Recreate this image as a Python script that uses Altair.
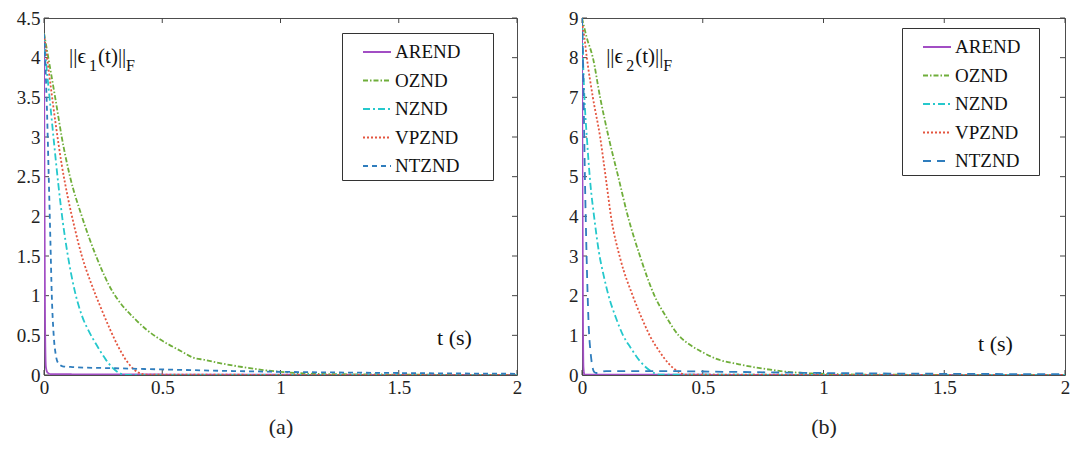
import altair as alt
import pandas as pd

FONT = "Liberation Serif, Times New Roman, Times, serif"
SERIES = ["AREND", "OZND", "NZND", "VPZND", "NTZND"]
COLORS = ["#a24ec4", "#6fae3a", "#25c8cc", "#e4553f", "#2f7dbd"]
DASH_A = [[1, 0], [5, 2, 1.5, 2], [7, 3, 2, 3], [2, 2], [5, 4]]
DASH_B = [[1, 0], [5, 2, 1.5, 2], [7, 3, 2, 3], [2, 2], [8, 6]]
WIDTH_A = [1.8, 1.8, 2.6, 2.6, 1.8]
WIDTH_B = [1.8, 1.8, 2.6, 2.6, 3.0]
PAD_A = "\u2800\u2800"  # blank trailing glyphs that widen the legend box
PAD_B = "\u2800"

X_TICKS = [0, 0.5, 1, 1.5, 2]
Y_TICKS_A = [0, 0.5, 1, 1.5, 2, 2.5, 3, 3.5, 4, 4.5]
Y_TICKS_B = [0, 1, 2, 3, 4, 5, 6, 7, 8, 9]

# ---- panel (a): ||eps_1(t)||_F ----
a_arend_t = [0, 0.0015, 0.003, 0.005, 0.008, 0.015, 0.03, 2.0]
a_arend_v = [4.3, 3.0, 1.6, 0.5, 0.1, 0.03, 0.01, 0.0]
a_oznd_t = [0, 0.02, 0.05, 0.075, 0.11, 0.16, 0.22, 0.29, 0.33, 0.38, 0.43, 0.48, 0.53, 0.58, 0.63, 0.68, 0.76, 0.84, 0.92, 1.0, 1.1, 1.25, 1.5, 2.0]
a_oznd_v = [4.31, 3.97, 3.45, 3.0, 2.5, 2.0, 1.5, 1.05, 0.88, 0.72, 0.58, 0.47, 0.38, 0.3, 0.22, 0.19, 0.14, 0.1, 0.065, 0.04, 0.02, 0.01, 0.005, 0.0]
a_nznd_t = [0, 0.01, 0.02, 0.03, 0.045, 0.06, 0.08, 0.1, 0.13, 0.16, 0.19, 0.22, 0.26, 0.29, 0.326, 0.35, 2.0]
a_nznd_v = [4.3, 3.9, 3.6, 3.3, 2.85, 2.42, 1.92, 1.52, 1.06, 0.75, 0.55, 0.39, 0.2, 0.09, 0.015, 0.0, 0.0]
a_vpznd_t = [0, 0.013, 0.03, 0.05, 0.075, 0.1, 0.13, 0.16, 0.2, 0.24, 0.28, 0.31, 0.34, 0.37, 0.4, 0.43, 2.0]
a_vpznd_v = [4.3, 4.0, 3.6, 3.15, 2.65, 2.25, 1.85, 1.5, 1.15, 0.85, 0.57, 0.38, 0.22, 0.1, 0.03, 0.005, 0.0]
a_ntznd_t = [0, 0.006, 0.013, 0.02, 0.027, 0.033, 0.041, 0.05, 0.06, 0.079, 0.12, 0.3, 0.5, 0.8, 1.0, 1.5, 2.0]
a_ntznd_v = [4.3, 3.9, 3.3, 2.5, 1.7, 1.0, 0.5, 0.25, 0.15, 0.11, 0.1, 0.085, 0.07, 0.05, 0.04, 0.025, 0.015]

# ---- panel (b): ||eps_2(t)||_F ----
b_arend_t = [0, 0.002, 0.004, 0.006, 0.01, 2.0]
b_arend_v = [8.9, 5.0, 1.5, 0.2, 0.01, 0.0]
b_oznd_t = [0, 0.02, 0.045, 0.075, 0.11, 0.15, 0.19, 0.24, 0.3, 0.35, 0.4, 0.45, 0.5, 0.56, 0.65, 0.75, 0.85, 0.95, 1.05, 1.2, 2.0]
b_oznd_v = [9.0, 8.5, 8.0, 7.0, 6.0, 5.0, 4.0, 3.0, 2.0, 1.45, 1.0, 0.75, 0.57, 0.4, 0.27, 0.16, 0.08, 0.04, 0.02, 0.008, 0.0]
b_nznd_t = [0, 0.005, 0.01, 0.02, 0.035, 0.05, 0.07, 0.09, 0.11, 0.14, 0.17, 0.2, 0.24, 0.28, 0.32, 2.0]
b_nznd_v = [9.0, 7.8, 7.0, 6.0, 4.8, 4.0, 3.1, 2.5, 2.0, 1.45, 1.0, 0.7, 0.35, 0.12, 0.01, 0.0]
b_vpznd_t = [0, 0.01, 0.02, 0.045, 0.075, 0.1, 0.12, 0.16, 0.21, 0.25, 0.28, 0.32, 0.36, 0.4, 0.43, 2.0]
b_vpznd_v = [8.9, 8.5, 8.0, 7.0, 6.0, 4.9, 4.0, 2.9, 2.0, 1.4, 1.0, 0.6, 0.28, 0.08, 0.01, 0.0]
b_ntznd_t = [0, 0.004, 0.008, 0.012, 0.016, 0.022, 0.028, 0.035, 0.042, 0.05, 0.06, 0.1, 0.3, 0.6, 1.0, 1.5, 2.0]
b_ntznd_v = [9.0, 8.0, 6.5, 5.0, 3.8, 2.3, 1.2, 0.6, 0.25, 0.08, 0.05, 0.1, 0.1, 0.08, 0.05, 0.03, 0.02]

curves_a = [(a_arend_t, a_arend_v), (a_oznd_t, a_oznd_v), (a_nznd_t, a_nznd_v),
            (a_vpznd_t, a_vpznd_v), (a_ntznd_t, a_ntznd_v)]
curves_b = [(b_arend_t, b_arend_v), (b_oznd_t, b_oznd_v), (b_nznd_t, b_nznd_v),
            (b_vpznd_t, b_vpznd_v), (b_ntznd_t, b_ntznd_v)]


def panel(curves, yticks, ymax, dashes, widths, W, H, letter, sub,
          lab_t, lab_v, ts_t, ts_v, legx, legy, pad):
    names = [s + pad for s in SERIES]
    rows = []
    for s, (ts, vs) in zip(names, curves):
        for k, (t, v) in enumerate(zip(ts, vs)):
            rows.append({"series": s, "t": t, "v": v, "k": k})
    df = pd.DataFrame(rows)

    X = alt.X("t:Q", scale=alt.Scale(domain=[0, 2], nice=False),
              axis=alt.Axis(values=X_TICKS, format="~g", title=letter, grid=False,
                            ticks=False, domain=False, labelFlush=False,
                            labelFont=FONT, labelFontSize=19, labelColor="#222",
                            labelPadding=3, titleFont=FONT, titleFontSize=22,
                            titleFontWeight="normal", titleColor="#222",
                            titlePadding=19))
    Y = alt.Y("v:Q", scale=alt.Scale(domain=[0, ymax], nice=False),
              axis=alt.Axis(values=yticks, format="~g", title=None, grid=False,
                            ticks=False, domain=False, labelFont=FONT,
                            labelFontSize=19, labelColor="#222", labelPadding=4))

    leg = alt.Legend(title=None, orient="none", legendX=legx, legendY=legy)

    lines = alt.Chart(df).mark_line(clip=True, interpolate="monotone").encode(
        x=X, y=Y,
        color=alt.Color("series:N", scale=alt.Scale(domain=names, range=COLORS), legend=leg),
        strokeDash=alt.StrokeDash("series:N", scale=alt.Scale(domain=names, range=dashes), legend=leg),
        strokeWidth=alt.StrokeWidth("series:N", scale=alt.Scale(domain=names, range=widths), legend=leg),
        order="k:Q",
    )

    ydf = pd.DataFrame({"v": yticks})
    xdf = pd.DataFrame({"t": X_TICKS})
    tick_style = dict(color="#444", strokeWidth=1)
    tl = alt.Chart(ydf).mark_rule(**tick_style).encode(y=Y, x=alt.value(0), x2=alt.value(5))
    tr = alt.Chart(ydf).mark_rule(**tick_style).encode(y=Y, x=alt.value(W - 5), x2=alt.value(W))
    tb = alt.Chart(xdf).mark_rule(**tick_style).encode(x=X, y=alt.value(H), y2=alt.value(H - 5))
    tt = alt.Chart(xdf).mark_rule(**tick_style).encode(x=X, y=alt.value(0), y2=alt.value(5))

    pieces = [("||\u03f5", 0, 0, 21), (sub, 20, 8, 16), ("(t)||", 29, 0, 21), ("F", 57, 8, 16)]
    texts = []
    for s, dx, dy, fs in pieces:
        texts.append(alt.Chart(pd.DataFrame({"t": [lab_t], "v": [lab_v], "s": [s]})).mark_text(
            align="left", baseline="alphabetic", font=FONT, fontSize=fs, dx=dx, dy=dy, color="#111"
        ).encode(x=X, y=Y, text="s:N"))
    tsx = alt.Chart(pd.DataFrame({"t": [ts_t], "v": [ts_v], "s": ["t (s)"]})).mark_text(
        align="left", baseline="alphabetic", font=FONT, fontSize=22, color="#111"
    ).encode(x=X, y=Y, text="s:N")

    return alt.layer(tl, tr, tb, tt, lines, *texts, tsx).properties(width=W, height=H)


left = panel(curves_a, Y_TICKS_A, 4.5, DASH_A, WIDTH_A, 473, 357, "(a)", "1",
             0.106, 3.93, 1.662, 0.38, 298, 15, PAD_A)
right = panel(curves_b, Y_TICKS_B, 9, DASH_B, WIDTH_B, 483, 357, "(b)", "2",
              0.1, 7.87, 1.64, 0.6, 320, 10, PAD_B)

chart = alt.hconcat(left, right, spacing=45).resolve_scale(
    color="independent", strokeDash="independent", strokeWidth="independent"
).resolve_legend(
    color="independent", strokeDash="independent", strokeWidth="independent"
).properties(
    padding={"left": 7, "top": 0, "right": 0, "bottom": 0}
).configure_view(
    stroke="#4d4d4d", strokeWidth=1
).configure_legend(
    symbolType="stroke", symbolSize=784, labelFont=FONT, labelFontSize=19,
    labelColor="#111", labelOffset=3, rowPadding=3.5, padding=4, symbolOffset=16,
    strokeColor="#333", fillColor="white", cornerRadius=0, labelLimit=300
)

chart.save("out.html", embed_options={"renderer": "svg", "actions": False})
